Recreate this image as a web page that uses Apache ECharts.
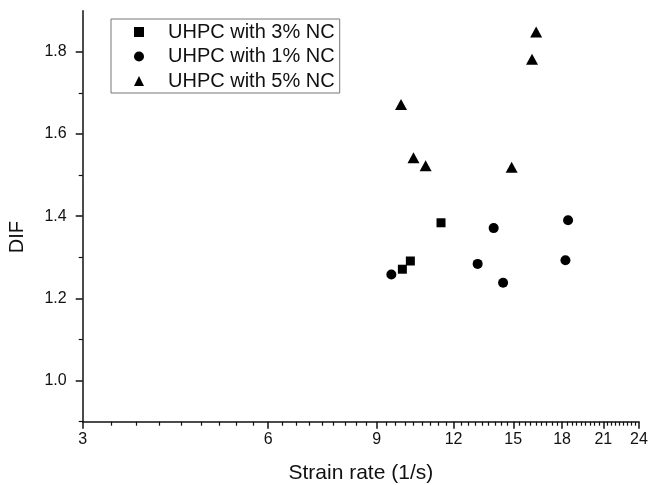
<!DOCTYPE html>
<html>
<head>
<meta charset="utf-8">
<script src="https://cdn.jsdelivr.net/npm/echarts@6/dist/echarts.min.js"></script>
<style>
html,body{margin:0;padding:0;background:#fff;}
#c{width:649px;height:485px;}
</style>
</head>
<body>
<div id="c"></div>
<script>
// Data
const seriesNames = ['UHPC with 3% NC', 'UHPC with 1% NC', 'UHPC with 5% NC'];
const nc3x = [9.91, 10.21, 11.45];
const nc3y = [1.271, 1.291, 1.384];
const nc1x = [9.51, 13.13, 13.94, 14.44, 18.23, 18.41];
const nc1y = [1.258, 1.284, 1.371, 1.238, 1.293, 1.390];
const nc5x = [9.86, 10.33, 10.81, 14.91, 16.09, 16.34];
const nc5y = [1.672, 1.542, 1.523, 1.519, 1.782, 1.848];
const xTickLabels = [3, 6, 9, 12, 15, 18, 21, 24];
const yTickLabels = [1.0, 1.2, 1.4, 1.6, 1.8];
const yMinorTicks = [0.9, 1.1, 1.3, 1.5, 1.7];

const xMinorTicks = [];
for (let k = 0; k <= 63; k++) {
  const v = 3 + k / 3;
  if (Math.abs(v / 3 - Math.round(v / 3)) > 1e-6) xMinorTicks.push(+v.toFixed(4));
}
function pairs(xs, ys) { return xs.map((x, i) => [x, ys[i]]); }

const FONT = 'Liberation Sans, Arial, sans-serif';
const TXT = '#111';
const grid = { left: 82.7, right: 10, top: 10.7, bottom: 63.3, containLabel: false, outerBoundsMode: 'none' };

const chart = echarts.init(document.getElementById('c'), null, { renderer: 'canvas' });
chart.setOption({
  animation: false,
  backgroundColor: '#fff',
  grid: grid,
  legend: {
    orient: 'vertical',
    left: 111, top: 19,
    padding: [3, 5, 2, 23],
    itemGap: 4.5,
    itemWidth: 10, itemHeight: 10,
    borderColor: '#777', borderWidth: 1,
    textStyle: { fontFamily: FONT, fontSize: 20, color: TXT, lineHeight: 20, padding: [0, 0, 0, 19] },
    data: [
      { name: seriesNames[0], icon: 'rect', itemStyle: { opacity: 1 } },
      { name: seriesNames[1], icon: 'circle', itemStyle: { opacity: 1 } },
      { name: seriesNames[2], icon: 'triangle', itemStyle: { opacity: 1 } }
    ]
  },
  xAxis: [{
    type: 'log', logBase: 10, min: 3, max: 24,
    name: 'Strain rate (1/s)', nameLocation: 'middle', nameGap: 41,
    nameTextStyle: { fontFamily: FONT, fontSize: 21, color: TXT },
    axisLine: { show: true, lineStyle: { color: '#111', width: 1.5 } },
    axisTick: { show: true, inside: false, length: 7, lineStyle: { color: '#111', width: 1.5 }, customValues: xTickLabels },
    axisLabel: { show: true, margin: 10, fontFamily: FONT, fontSize: 16, color: TXT, customValues: xTickLabels, formatter: v => String(Math.round(v)) },
    splitLine: { show: false }, minorTick: { show: false }
  }, {
    type: 'log', logBase: 10, min: 3, max: 24, position: 'bottom',
    axisLine: { show: false },
    axisTick: { show: true, length: 4, lineStyle: { color: '#111', width: 1.2 }, customValues: xMinorTicks },
    axisLabel: { show: false },
    splitLine: { show: false }
  }],
  yAxis: [{
    type: 'value', min: 0.9, max: 1.9,
    name: 'DIF', nameLocation: 'middle', nameGap: 55, nameRotate: 90,
    nameTextStyle: { fontFamily: FONT, fontSize: 20, color: TXT, padding: [0, 42, 0, 0] },
    axisLine: { show: true, lineStyle: { color: '#111', width: 1.5 } },
    axisTick: { show: true, length: 7, lineStyle: { color: '#111', width: 1.5 }, customValues: yTickLabels },
    axisLabel: { show: true, margin: 16, fontFamily: FONT, fontSize: 16, color: TXT, customValues: yTickLabels, formatter: v => v.toFixed(1) },
    splitLine: { show: false }
  }, {
    type: 'value', min: 0.9, max: 1.9, position: 'left',
    axisLine: { show: false },
    axisTick: { show: true, length: 4, lineStyle: { color: '#111', width: 1.2 }, customValues: yMinorTicks },
    axisLabel: { show: false },
    splitLine: { show: false }
  }],
  series: [
    { name: seriesNames[0], type: 'scatter', symbol: 'rect', symbolSize: 9, itemStyle: { color: '#000', opacity: 1 }, data: pairs(nc3x, nc3y) },
    { name: seriesNames[1], type: 'scatter', symbol: 'circle', symbolSize: 10, itemStyle: { color: '#000', opacity: 1 }, data: pairs(nc1x, nc1y) },
    { name: seriesNames[2], type: 'scatter', symbol: 'triangle', symbolSize: [12, 11], itemStyle: { color: '#000', opacity: 1 }, data: pairs(nc5x, nc5y) }
  ]
});
</script>
</body>
</html>
